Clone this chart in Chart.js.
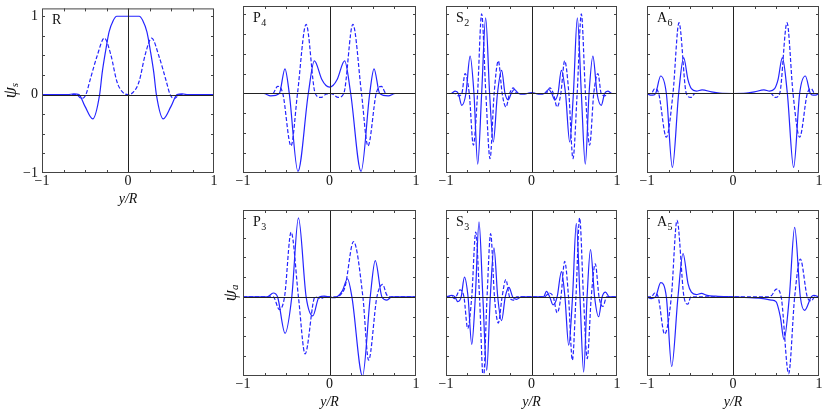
<!DOCTYPE html>
<html>
<head>
<meta charset="utf-8">
<script src="https://cdn.jsdelivr.net/npm/chart.js@4.4.0/dist/chart.umd.min.js"></script>
<style>
  body { margin: 0; background: #fff; width: 830px; height: 415px; position: relative; overflow: hidden; }
  canvas { position: absolute; }
</style>
</head>
<body>
<script>
// values, x = y/R, y = psi
const rSolidX = [-1, -0.7, -0.63, -0.57, -0.5, -0.41, -0.33, -0.3, -0.26, -0.22, -0.17, -0.13, 0, 0.13, 0.17, 0.22, 0.26, 0.3, 0.33, 0.41, 0.5, 0.57, 0.63, 0.7, 1];
const rSolidY = [0, 0, 0.01, 0, -0.15, -0.31, 0, 0.28, 0.56, 0.8, 0.95, 1, 1, 1, 0.95, 0.8, 0.56, 0.28, 0, -0.31, -0.15, 0, 0.01, 0, 0];
const rDashX = [-1, -0.6, -0.54, -0.49, -0.44, -0.36, -0.275, -0.2, -0.13, -0.07, 0, 0.07, 0.13, 0.2, 0.275, 0.36, 0.44, 0.49, 0.54, 0.6, 1];
const rDashY = [0, 0, -0.05, 0, 0.19, 0.49, 0.72, 0.51, 0.17, 0.04, 0, 0.04, 0.17, 0.51, 0.72, 0.49, 0.19, 0, -0.05, 0, 0];

const p4SolidX = [-1, -0.76, -0.68, -0.58, -0.515, -0.465, -0.365, -0.245, -0.175, -0.09, -0.04, 0, 0.04, 0.09, 0.175, 0.245, 0.365, 0.465, 0.515, 0.58, 0.68, 0.76, 1];
const p4SolidY = [0, 0, -0.03, 0, 0.31, 0, -0.98, 0, 0.41, 0.18, 0.1, 0.08, 0.1, 0.18, 0.41, 0, -0.98, 0, 0.31, 0, -0.03, 0, 0];
const p4DashX = [-1, -0.7, -0.655, -0.6, -0.54, -0.445, -0.37, -0.27, -0.165, -0.1, -0.04, 0, 0.04, 0.1, 0.165, 0.27, 0.37, 0.445, 0.54, 0.6, 0.655, 0.7, 1];
const p4DashY = [0, 0, 0, 0.09, 0, -0.66, 0, 0.87, 0, -0.05, -0.01, 0, -0.01, -0.05, 0, 0.87, 0, -0.66, 0, 0.09, 0, 0, 0];

const s2SolidX = [-1, -0.94, -0.893, -0.855, -0.816, -0.767, -0.718, -0.673, -0.629, -0.583, -0.536, -0.49, -0.447, -0.398, -0.349, -0.31, -0.272, -0.237, -0.202, -0.15, -0.097, -0.05, 0,
  0.05, 0.097, 0.15, 0.202, 0.237, 0.272, 0.31, 0.349, 0.398, 0.447, 0.49, 0.536, 0.583, 0.629, 0.673, 0.718, 0.767, 0.816, 0.855, 0.893, 0.94, 1];
const s2SolidY = [0, 0, 0.03, 0, -0.15, 0, 0.47, 0, -0.89, 0, 0.95, 0, -0.61, 0, 0.29, 0, -0.08, 0, 0.05, 0, -0.01, 0, 0.01,
  0, -0.01, 0, 0.05, 0, -0.08, 0, 0.29, 0, -0.61, 0, 0.95, 0, -0.89, 0, 0.47, 0, -0.15, 0, 0.03, 0, 0];
const s2DashX = [-1, -0.9, -0.854, -0.815, -0.777, -0.728, -0.68, -0.631, -0.583, -0.534, -0.485, -0.437, -0.388, -0.343, -0.299, -0.256, -0.214, -0.17, -0.12, 0,
  0.12, 0.17, 0.214, 0.256, 0.299, 0.343, 0.388, 0.437, 0.485, 0.534, 0.583, 0.631, 0.68, 0.728, 0.777, 0.815, 0.854, 0.9, 1];
const s2DashY = [0, 0, -0.03, 0, 0.25, 0, -0.65, 0, 1.0, 0, -0.82, 0, 0.41, 0, -0.17, 0, 0.07, 0, 0, 0,
  0, 0, 0.07, 0, -0.17, 0, 0.41, 0, -0.82, 0, 1.0, 0, -0.65, 0, 0.25, 0, -0.03, 0, 0];

const a6SolidX = [-1, -0.96, -0.93, -0.9, -0.841, -0.775, -0.705, -0.632, -0.574, -0.523, -0.484, -0.426, -0.36, -0.25, -0.155, 0,
  0.155, 0.25, 0.36, 0.426, 0.484, 0.523, 0.574, 0.632, 0.705, 0.775, 0.841, 0.9, 0.93, 0.96, 1];
const a6SolidY = [0, -0.02, -0.02, 0, 0.22, 0, -0.93, 0, 0.45, 0.17, 0.06, 0.03, 0.045, 0.02, 0.005, 0,
  0.005, 0.02, 0.045, 0.03, 0.06, 0.17, 0.45, 0, -0.93, 0, 0.22, 0, -0.02, -0.02, 0];
const a6DashX = [-1, -0.95, -0.91, -0.864, -0.775, -0.698, -0.628, -0.543, -0.49, -0.44, 0, 0.44, 0.49, 0.543, 0.628, 0.698, 0.775, 0.864, 0.91, 0.95, 1];
const a6DashY = [0, 0, 0.06, 0, -0.55, 0, 0.89, 0, -0.05, 0, 0, 0, -0.05, 0, 0.89, 0, -0.55, 0, 0.06, 0, 0];

const p3SolidX = [-1, -0.72, -0.65, -0.6, -0.514, -0.436, -0.359, -0.27, -0.193, -0.12, -0.06, 0, 0.04, 0.085, 0.15, 0.208, 0.259, 0.382, 0.471, 0.529, 0.606, 0.664, 0.72, 1];
const p3SolidY = [0, 0, 0.05, 0, -0.46, 0, 1.0, 0, -0.24, 0, 0.01, 0, -0.01, 0, 0.08, 0.23, 0, -1.0, 0, 0.46, 0, -0.04, 0, 0];
const p3DashX = [-1, -0.65, -0.58, -0.52, -0.444, -0.359, -0.282, -0.166, -0.1, -0.05, 0, 0.06, 0.12, 0.18, 0.278, 0.386, 0.452, 0.548, 0.614, 0.66, 0.7, 1];
const p3DashY = [0, 0, -0.16, 0, 0.82, 0, -0.72, 0, -0.02, 0, 0, 0, 0.02, 0.13, 0.70, 0, -0.8, 0, 0.16, 0.03, 0, 0];

const s3SolidX = [-1, -0.93, -0.895, -0.862, -0.823, -0.784, -0.742, -0.699, -0.657, -0.614, -0.569, -0.524, -0.482, -0.439, -0.395, -0.35, -0.307, -0.264, -0.22, -0.175, -0.12, 0,
  0.1, 0.14, 0.175, 0.213, 0.252, 0.3, 0.35, 0.391, 0.435, 0.48, 0.524, 0.567, 0.61, 0.65, 0.69, 0.738, 0.785, 0.826, 0.866, 0.91, 1];
const s3SolidY = [0, 0.02, 0, -0.06, 0, 0.25, 0, -0.6, 0, 0.95, 0, -0.93, 0, 0.62, 0, -0.3, 0, 0.12, 0, -0.03, 0, 0,
  0, 0, 0.07, 0, -0.1, 0, 0.32, 0, -0.61, 0, 0.93, 0, -0.95, 0, 0.6, 0, -0.25, 0, 0.06, 0, 0];
const s3DashX = [-1, -0.93, -0.9, -0.835, -0.79, -0.746, -0.699, -0.652, -0.608, -0.563, -0.52, -0.478, -0.433, -0.388, -0.344, -0.3, -0.257, -0.214, -0.17, 0,
  0.15, 0.21, 0.255, 0.3, 0.344, 0.388, 0.433, 0.478, 0.52, 0.563, 0.608, 0.652, 0.699, 0.746, 0.79, 0.835, 0.88, 1];
const s3DashY = [0, 0, -0.02, 0.09, 0, -0.4, 0, 0.82, 0, -1.05, 0, 0.8, 0, -0.33, 0, 0.22, 0, -0.04, 0, 0,
  0, 0.05, 0, -0.2, 0, 0.45, 0, -0.8, 0, 1.0, 0, -0.78, 0, 0.42, 0, -0.12, 0, 0];

const a5SolidX = [-1, -0.95, -0.9, -0.841, -0.775, -0.713, -0.64, -0.581, -0.523, -0.484, -0.426, -0.368, -0.3, -0.2, 0,
  0.2, 0.35, 0.446, 0.5, 0.55, 0.593, 0.655, 0.717, 0.783, 0.833, 0.91, 0.94, 1];
const a5SolidY = [0, -0.02, 0, 0.18, 0, -0.88, 0, 0.55, 0.17, 0.06, 0.03, 0.045, 0.02, 0.01, 0,
  -0.01, -0.02, -0.04, -0.06, -0.25, -0.54, 0, 0.88, 0, -0.17, 0, 0.02, 0];
const a5DashX = [-1, -0.95, -0.91, -0.87, -0.795, -0.717, -0.651, -0.57, -0.525, -0.49, 0, 0.4, 0.45, 0.504, 0.56, 0.647, 0.717, 0.783, 0.864, 0.91, 0.95, 1];
const a5DashY = [0, 0, 0.05, 0, -0.47, 0, 0.97, 0, -0.09, 0, 0, 0, 0.02, 0.1, 0, -0.97, 0, 0.48, 0, -0.05, 0, 0];

const axisTicks = [-1, 0, 1];
const minorX = [-0.75, -0.5, -0.25, 0.25, 0.5, 0.75];
const minorY = [-0.75, -0.5, -0.25, 0.25, 0.5, 0.75, 1];

const blue = '#2424ff';
const serif = '"Liberation Serif", "DejaVu Serif", serif';

const panels = [
  { name: 'R', sub: '',  left: 42,  top: 6,   w: 172, h: 167, sx: rSolidX,  sy: rSolidY,  dx: rDashX,  dy: rDashY,  yLabels: true,  yTitle: 's', xTitle: true },
  { name: 'P', sub: '4', left: 243, top: 6,   w: 173, h: 167, sx: p4SolidX, sy: p4SolidY, dx: p4DashX, dy: p4DashY },
  { name: 'S', sub: '2', left: 446, top: 6,   w: 171, h: 167, sx: s2SolidX, sy: s2SolidY, dx: s2DashX, dy: s2DashY },
  { name: 'A', sub: '6', left: 647, top: 6,   w: 172, h: 167, sx: a6SolidX, sy: a6SolidY, dx: a6DashX, dy: a6DashY },
  { name: 'P', sub: '3', left: 243, top: 210, w: 173, h: 166, sx: p3SolidX, sy: p3SolidY, dx: p3DashX, dy: p3DashY, yTitle: 'a', xTitle: true },
  { name: 'S', sub: '3', left: 446, top: 210, w: 171, h: 166, sx: s3SolidX, sy: s3SolidY, dx: s3DashX, dy: s3DashY, xTitle: true },
  { name: 'A', sub: '5', left: 647, top: 210, w: 172, h: 166, sx: a5SolidX, sy: a5SolidY, dx: a5DashX, dy: a5DashY, xTitle: true },
];

// outer margin round each frame; the axes take xAxisH / yAxisW of it
const margin = { left: 42, top: 10, right: 10, bottom: 36 };
const xAxisH = 22, yAxisW = 30;

const fmt = v => (v < 0 ? '\u2212' + Math.abs(v) : String(v));
const toPts = (xs, ys) => xs.map((x, i) => ({ x: x, y: ys[i] }));

// frame, inward ticks, zero lines and texts
const framePlugin = {
  id: 'frame',
  afterDatasetsDraw(chart) {
    const { ctx, chartArea: a, scales: { x, y } } = chart;
    const x0 = Math.round(x.getPixelForValue(0)) + 0.5;
    const y0 = Math.round(y.getPixelForValue(0)) + 0.5;
    ctx.save();
    ctx.strokeStyle = '#222';
    ctx.lineWidth = 1;
    ctx.beginPath();
    ctx.moveTo(x0, a.top); ctx.lineTo(x0, a.bottom);
    ctx.moveTo(a.left, y0); ctx.lineTo(a.right, y0);
    ctx.stroke();
    ctx.restore();
  },
  afterDraw(chart, args, p) {
    const { ctx, chartArea: a, scales: { x, y } } = chart;
    ctx.save();
    ctx.strokeStyle = '#444';
    ctx.lineWidth = 1;
    ctx.strokeRect(a.left + 0.5, a.top + 0.5, a.right - a.left - 1, a.bottom - a.top - 1);
    ctx.beginPath();
    minorX.forEach(v => {
      const px = Math.round(x.getPixelForValue(v)) + 0.5;
      ctx.moveTo(px, a.top); ctx.lineTo(px, a.top + 3);
      ctx.moveTo(px, a.bottom); ctx.lineTo(px, a.bottom - 3);
    });
    minorY.forEach(v => {
      const py = Math.round(y.getPixelForValue(v)) + 0.5;
      ctx.moveTo(a.left, py); ctx.lineTo(a.left + 3, py);
      ctx.moveTo(a.right, py); ctx.lineTo(a.right - 3, py);
    });
    ctx.stroke();

    // panel name
    ctx.fillStyle = '#111';
    ctx.textBaseline = 'alphabetic';
    ctx.textAlign = 'left';
    ctx.font = '14px ' + serif;
    const lx = a.left + 10, ly = a.top + 16;
    ctx.fillText(p.name, lx, ly);
    if (p.sub) {
      const w = ctx.measureText(p.name).width;
      ctx.font = '10px ' + serif;
      ctx.fillText(p.sub, lx + w + 0.5, ly + 3.5);
    }

    // x title
    if (p.xTitle) {
      ctx.font = 'italic 14px ' + serif;
      ctx.textAlign = 'center';
      ctx.textBaseline = 'middle';
      ctx.fillText('y/R', (a.left + a.right) / 2, a.bottom + 26);
    }

    // y title, rotated
    if (p.yTitle) {
      ctx.translate(p.yLabels ? a.left - 31 : a.left - 12, y.getPixelForValue(0) - 4);
      ctx.rotate(-Math.PI / 2);
      ctx.textBaseline = 'middle';
      ctx.textAlign = 'left';
      ctx.font = 'italic 18px ' + serif;
      const w1 = ctx.measureText('\u03c8').width;
      ctx.font = 'italic 11px ' + serif;
      const w2 = ctx.measureText(p.yTitle).width;
      const sx = -(w1 + w2) / 2;
      ctx.font = 'italic 18px ' + serif;
      ctx.fillText('\u03c8', sx, 0);
      ctx.font = 'italic 11px ' + serif;
      ctx.fillText(p.yTitle, sx + w1, 4);
    }
    ctx.restore();
  }
};

panels.forEach(p => {
  const c = document.createElement('canvas');
  c.width = p.w + margin.left + margin.right;
  c.height = p.h + margin.top + margin.bottom;
  c.style.left = (p.left - margin.left) + 'px';
  c.style.top = (p.top - margin.top) + 'px';
  document.body.appendChild(c);

  new Chart(c.getContext('2d'), {
    type: 'line',
    data: {
      datasets: [
        {
          data: toPts(p.sx, p.sy),
          borderColor: blue,
          borderWidth: 1.2,
          pointRadius: 0,
          fill: false,
          cubicInterpolationMode: 'monotone'
        },
        {
          data: toPts(p.dx, p.dy),
          borderColor: blue,
          borderWidth: 1.2,
          borderDash: [4, 2],
          pointRadius: 0,
          fill: false,
          cubicInterpolationMode: 'monotone'
        }
      ]
    },
    options: {
      responsive: false,
      animation: false,
      events: [],
      layout: { padding: { left: margin.left - yAxisW, top: margin.top, right: margin.right, bottom: margin.bottom - xAxisH } },
      plugins: {
        legend: { display: false },
        tooltip: { enabled: false },
        frame: p
      },
      scales: {
        x: {
          type: 'linear',
          min: -1,
          max: 1,
          grid: { display: false, drawTicks: false },
          border: { display: false },
          afterBuildTicks: s => { s.ticks = axisTicks.map(v => ({ value: v })); },
          afterFit: s => { s.height = xAxisH; },
          ticks: { callback: fmt, font: { family: serif, size: 14 }, color: '#111', padding: 0, maxRotation: 0, autoSkip: false }
        },
        y: {
          type: 'linear',
          min: -1,
          max: 1.1,
          grid: { display: false, drawTicks: false },
          border: { display: false },
          afterBuildTicks: s => { s.ticks = axisTicks.map(v => ({ value: v })); },
          afterFit: s => { s.width = yAxisW; },
          ticks: { display: !!p.yLabels, callback: fmt, font: { family: serif, size: 14 }, color: '#111', padding: 4, autoSkip: false }
        }
      }
    },
    plugins: [framePlugin]
  });
});
</script>
</body>
</html>
